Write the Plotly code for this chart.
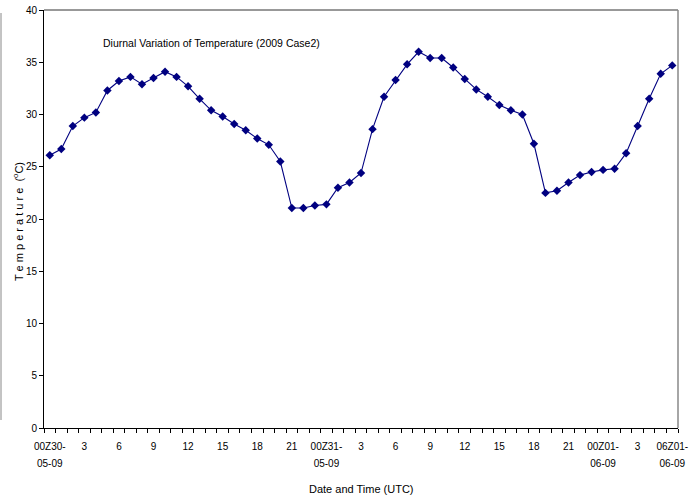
import plotly.graph_objects as go

hours = list(range(55))
temps = [26.1, 26.7, 28.9, 29.7, 30.2, 32.3, 33.2, 33.6, 32.9, 33.5,
         34.1, 33.6, 32.7, 31.5, 30.4, 29.8, 29.1, 28.5, 27.7, 27.1,
         25.5, 21.05, 21.05, 21.3, 21.4, 23.0, 23.5, 24.4, 28.6, 31.7,
         33.3, 34.8, 36.0, 35.4, 35.4, 34.5, 33.4, 32.4, 31.7, 30.9,
         30.4, 30.0, 27.2, 22.5, 22.7, 23.5, 24.2, 24.5, 24.7, 24.8,
         26.3, 28.9, 31.5, 33.9, 34.7]
tick_positions = list(range(0, 55, 3))
tick_labels = ["00Z30-", "3", "6", "9", "12", "15", "18", "21",
               "00Z31-", "3", "6", "9", "12", "15", "18", "21",
               "00Z01-", "3", "06Z01-"]
date_positions = [0, 24, 48, 54]
date_labels = ["05-09", "05-09", "06-09", "06-09"]
y_ticks = [0, 5, 10, 15, 20, 25, 30, 35, 40]

FONT = "Liberation Sans Narrow, Arial Narrow, Liberation Sans, Arial, sans-serif"
NAVY = "#000080"

L, R, T, B = 44, 678, 10, 428
PW, PH = R - L, B - T

fig = go.Figure()
fig.add_trace(go.Scatter(
    x=hours, y=temps, mode="lines+markers",
    line=dict(color=NAVY, width=1.1),
    marker=dict(symbol="diamond", size=6.5, color=NAVY),
    showlegend=False, cliponaxis=False,
))
fig.add_trace(go.Scatter(
    x=hours, y=temps, mode="markers", xaxis="x2",
    marker=dict(size=1, color="rgba(0,0,0,0)"),
    showlegend=False, hoverinfo="skip",
))

fig.update_layout(
    width=698, height=496,
    margin=dict(l=L, r=698 - R, t=T, b=496 - B),
    paper_bgcolor="white", plot_bgcolor="white",
    font=dict(family=FONT, size=10, color="black"),
    xaxis=dict(
        range=[-0.5, 54.5], showgrid=False, zeroline=False, automargin=False,
        showline=True, linecolor="black", linewidth=1,
        tickmode="array", tickvals=tick_positions, ticktext=tick_labels,
        ticks="", ticklabelstandoff=9, tickfont=dict(size=10, family=FONT),
        minor=dict(tickmode="linear", tick0=-0.5, dtick=1, ticks="outside",
                   ticklen=4, tickcolor="black", tickwidth=1, showgrid=False),
    ),
    xaxis2=dict(
        range=[-0.5, 54.5], overlaying="x", side="bottom", anchor="y",
        showgrid=False, zeroline=False, automargin=False, showline=False,
        tickmode="array", tickvals=date_positions, ticktext=date_labels,
        ticks="", ticklabelstandoff=28, tickfont=dict(size=10, family=FONT),
    ),
    yaxis=dict(
        range=[0, 40], showgrid=False, zeroline=False, automargin=False,
        showline=True, linecolor="black", linewidth=1,
        tickmode="array", tickvals=y_ticks, ticks="outside", ticklen=4,
        tickcolor="black", tickfont=dict(size=10, family=FONT),
    ),
    shapes=[
        dict(type="line", xref="paper", yref="paper", x0=0, x1=1, y0=1, y1=1,
             line=dict(color="#333333", width=1)),
        dict(type="line", xref="paper", yref="paper", x0=1, x1=1, y0=0, y1=1,
             line=dict(color="#888888", width=1.5)),
        dict(type="line", xref="paper", yref="paper", x0=-43 / PW, x1=-43 / PW,
             y0=(B - 420) / PH, y1=(B - 13) / PH,
             line=dict(color="#888888", width=1)),
    ],
    annotations=[
        dict(text="Diurnal Variation of Temperature (2009 Case2)",
             xref="paper", yref="paper", x=(211 - L) / PW, y=(B - 43) / PH,
             xanchor="center", yanchor="middle", showarrow=False,
             font=dict(size=10.5, family=FONT, color="black")),
        dict(text="Date and Time (UTC)",
             xref="paper", yref="paper", x=(361 - L) / PW, y=(B - 489) / PH,
             xanchor="center", yanchor="middle", showarrow=False,
             font=dict(size=11, family=FONT, color="black")),
        dict(text="T e m p e r a t u r e  (<sup>o</sup>C)",
             xref="paper", yref="paper", x=(18 - L) / PW, y=(B - 222) / PH,
             xanchor="center", yanchor="middle", showarrow=False, textangle=-90,
             font=dict(size=11, family=FONT, color="black")),
    ],
)

fig.write_html("out.html", config={"displayModeBar": False},
               post_script="document.body.style.margin='0';document.body.style.overflow='hidden';")
